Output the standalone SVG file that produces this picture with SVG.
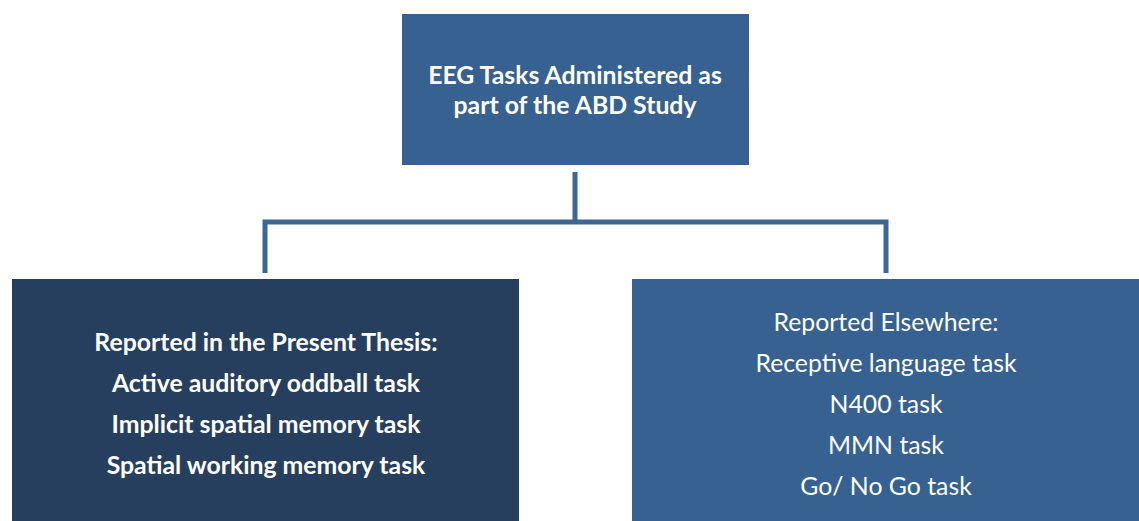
<svg xmlns="http://www.w3.org/2000/svg" width="1139" height="521" viewBox="0 0 1139 521">
<style>
.t{font-family:Lato,"Open Sans","Liberation Sans",sans-serif;fill:#fff;text-anchor:middle;font-size:24.8px}
.b{font-weight:bold}
.c{fill:none;stroke:#3b6696;stroke-width:5}
</style>
<rect width="1139" height="521" fill="#fff"/>
<g id="connectors">
<path class="c" d="M575 172V222"/>
<path class="c" d="M265 273V222H886V273"/>
</g>
<g id="top">
<rect x="402" y="14" width="347" height="151" fill="#376190"/>
<text class="t b" x="575" y="84">EEG Tasks Administered as</text>
<text class="t b" x="575" y="114">part of the ABD Study</text>
</g>
<g id="left">
<rect x="12" y="279" width="507" height="242" fill="#273f5f"/>
<text class="t b" x="266" y="351">Reported in the Present Thesis:</text>
<text class="t b" x="266" y="392">Active auditory oddball task</text>
<text class="t b" x="266" y="433">Implicit spatial memory task</text>
<text class="t b" x="266" y="474">Spatial working memory task</text>
</g>
<g id="right">
<rect x="632" y="279" width="507" height="242" fill="#376190"/>
<text class="t" x="886" y="331">Reported Elsewhere:</text>
<text class="t" x="886" y="372">Receptive language task</text>
<text class="t" x="886" y="413">N400 task</text>
<text class="t" x="886" y="454">MMN task</text>
<text class="t" x="886" y="495">Go/ No Go task</text>
</g>
</svg>
